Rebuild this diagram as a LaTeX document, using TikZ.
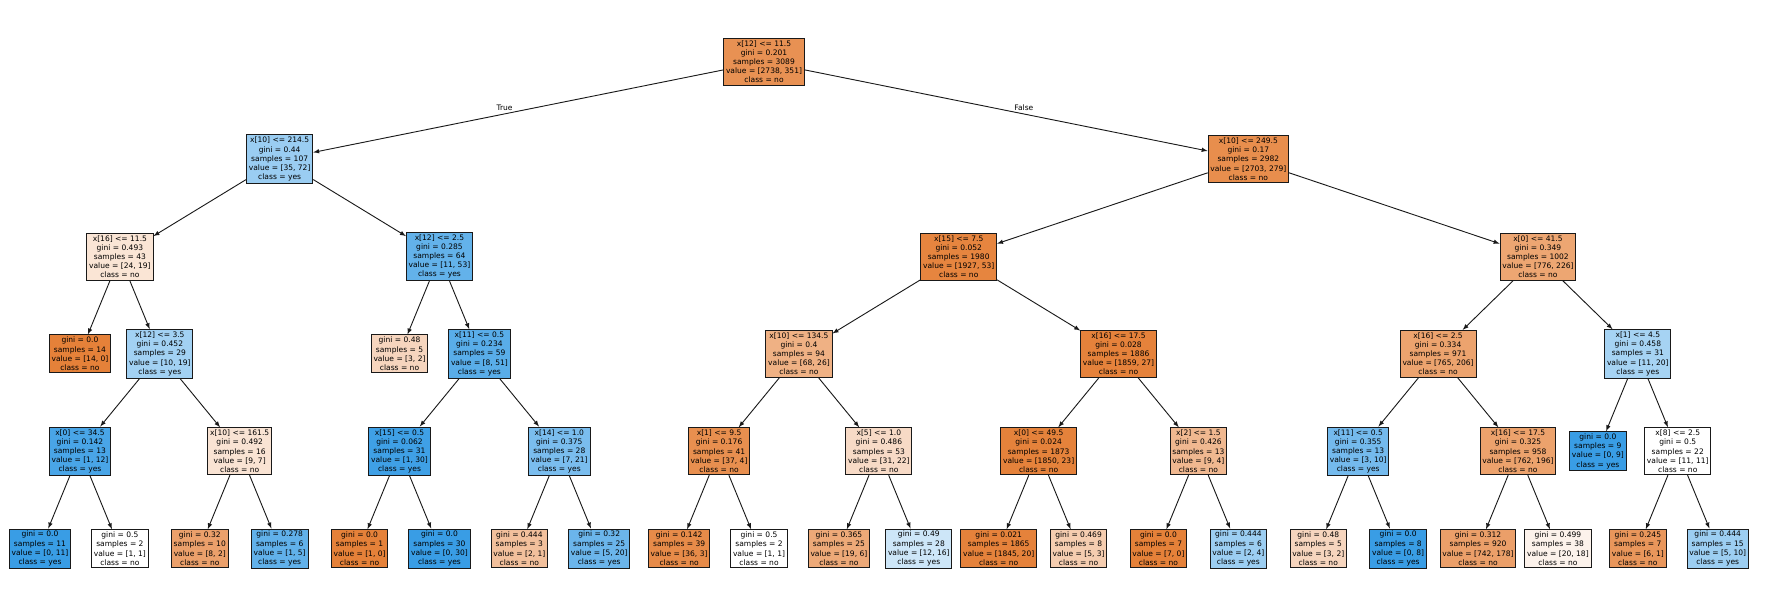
\documentclass[tikz,border=0pt]{standalone}
\usepackage{fontspec}
\setmainfont{DejaVu Sans}
\definecolor{cno}{RGB}{229,129,57}
\definecolor{cyes}{RGB}{57,157,229}

\begin{document}
\begin{tikzpicture}[x=69.9pt,y=-85.2pt]
	\tikzstyle{every node}=[font=\fontsize{6.6}{8}\selectfont]
	\tikzstyle{box}=[draw=black!90, line width=0.8pt, inner sep=2pt, align=center]
	\tikzstyle{arr}=[-latex, black!90, line width=0.8pt]
	\useasboundingbox (-0.5007,-0.634) rectangle (21.93,5.458);

	% depth 0 and 1
	\node[box, fill=cno!87] (n0) at (9.0625,0) {x[12] <= 11.5\\gini = 0.201\\samples = 3089\\value = [2738, 351]\\class = no};
	\node[box, fill=cyes!51] (n1) at (3,1) {x[10] <= 214.5\\gini = 0.44\\samples = 107\\value = [35, 72]\\class = yes};
	\node[box, fill=cno!90] (n20) at (15.125,1) {x[10] <= 249.5\\gini = 0.17\\samples = 2982\\value = [2703, 279]\\class = no};
	\node[anchor=east] (lt) at (5.966,0.475) {True};
	\node[anchor=west] (lf) at (12.146,0.475) {False};

	% left half
	\node[box, fill=cno!21] (n2) at (1,2) {x[16] <= 11.5\\gini = 0.493\\samples = 43\\value = [24, 19]\\class = no};
	\node[box, fill=cno] (n3) at (0.5,3) {gini = 0.0\\samples = 14\\value = [14, 0]\\class = no};
	\node[box, fill=cyes!47] (n4) at (1.5,3) {x[12] <= 3.5\\gini = 0.452\\samples = 29\\value = [10, 19]\\class = yes};
	\node[box, fill=cyes!92] (n5) at (0.5,4) {x[0] <= 34.5\\gini = 0.142\\samples = 13\\value = [1, 12]\\class = yes};
	\node[box, fill=cyes] (n6) at (0,5) {gini = 0.0\\samples = 11\\value = [0, 11]\\class = yes};
	\node[box, fill=white] (n7) at (1,5) {gini = 0.5\\samples = 2\\value = [1, 1]\\class = no};
	\node[box, fill=cno!22] (n8) at (2.5,4) {x[10] <= 161.5\\gini = 0.492\\samples = 16\\value = [9, 7]\\class = no};
	\node[box, fill=cno!75] (n9) at (2,5) {gini = 0.32\\samples = 10\\value = [8, 2]\\class = no};
	\node[box, fill=cyes!80] (n10) at (3,5) {gini = 0.278\\samples = 6\\value = [1, 5]\\class = yes};
	\node[box, fill=cyes!79] (n11) at (5,2) {x[12] <= 2.5\\gini = 0.285\\samples = 64\\value = [11, 53]\\class = yes};
	\node[box, fill=cno!33] (n12) at (4.5,3) {gini = 0.48\\samples = 5\\value = [3, 2]\\class = no};
	\node[box, fill=cyes!84] (n13) at (5.5,3) {x[11] <= 0.5\\gini = 0.234\\samples = 59\\value = [8, 51]\\class = yes};
	\node[box, fill=cyes!97] (n14) at (4.5,4) {x[15] <= 0.5\\gini = 0.062\\samples = 31\\value = [1, 30]\\class = yes};
	\node[box, fill=cno] (n15) at (4,5) {gini = 0.0\\samples = 1\\value = [1, 0]\\class = no};
	\node[box, fill=cyes] (n16) at (5,5) {gini = 0.0\\samples = 30\\value = [0, 30]\\class = yes};
	\node[box, fill=cyes!67] (n17) at (6.5,4) {x[14] <= 1.0\\gini = 0.375\\samples = 28\\value = [7, 21]\\class = yes};
	\node[box, fill=cno!50] (n18) at (6,5) {gini = 0.444\\samples = 3\\value = [2, 1]\\class = no};
	\node[box, fill=cyes!75] (n19) at (7,5) {gini = 0.32\\samples = 25\\value = [5, 20]\\class = yes};

	% right half
	\node[box, fill=cno!97] (n21) at (11.5,2) {x[15] <= 7.5\\gini = 0.052\\samples = 1980\\value = [1927, 53]\\class = no};
	\node[box, fill=cno!62] (n22) at (9.5,3) {x[10] <= 134.5\\gini = 0.4\\samples = 94\\value = [68, 26]\\class = no};
	\node[box, fill=cno!89] (n23) at (8.5,4) {x[1] <= 9.5\\gini = 0.176\\samples = 41\\value = [37, 4]\\class = no};
	\node[box, fill=cno!92] (n24) at (8,5) {gini = 0.142\\samples = 39\\value = [36, 3]\\class = no};
	\node[box, fill=white] (n25) at (9,5) {gini = 0.5\\samples = 2\\value = [1, 1]\\class = no};
	\node[box, fill=cno!29] (n26) at (10.5,4) {x[5] <= 1.0\\gini = 0.486\\samples = 53\\value = [31, 22]\\class = no};
	\node[box, fill=cno!68] (n27) at (10,5) {gini = 0.365\\samples = 25\\value = [19, 6]\\class = no};
	\node[box, fill=cyes!25] (n28) at (11,5) {gini = 0.49\\samples = 28\\value = [12, 16]\\class = yes};
	\node[box, fill=cno!99] (n29) at (13.5,3) {x[16] <= 17.5\\gini = 0.028\\samples = 1886\\value = [1859, 27]\\class = no};
	\node[box, fill=cno!99] (n30) at (12.5,4) {x[0] <= 49.5\\gini = 0.024\\samples = 1873\\value = [1850, 23]\\class = no};
	\node[box, fill=cno!99] (n31) at (12,5) {gini = 0.021\\samples = 1865\\value = [1845, 20]\\class = no};
	\node[box, fill=cno!40] (n32) at (13,5) {gini = 0.469\\samples = 8\\value = [5, 3]\\class = no};
	\node[box, fill=cno!56] (n33) at (14.5,4) {x[2] <= 1.5\\gini = 0.426\\samples = 13\\value = [9, 4]\\class = no};
	\node[box, fill=cno] (n34) at (14,5) {gini = 0.0\\samples = 7\\value = [7, 0]\\class = no};
	\node[box, fill=cyes!50] (n35) at (15,5) {gini = 0.444\\samples = 6\\value = [2, 4]\\class = yes};
	\node[box, fill=cno!71] (n36) at (18.75,2) {x[0] <= 41.5\\gini = 0.349\\samples = 1002\\value = [776, 226]\\class = no};
	\node[box, fill=cno!73] (n37) at (17.5,3) {x[16] <= 2.5\\gini = 0.334\\samples = 971\\value = [765, 206]\\class = no};
	\node[box, fill=cyes!70] (n38) at (16.5,4) {x[11] <= 0.5\\gini = 0.355\\samples = 13\\value = [3, 10]\\class = yes};
	\node[box, fill=cno!33] (n39) at (16,5) {gini = 0.48\\samples = 5\\value = [3, 2]\\class = no};
	\node[box, fill=cyes] (n40) at (17,5) {gini = 0.0\\samples = 8\\value = [0, 8]\\class = yes};
	\node[box, fill=cno!74] (n41) at (18.5,4) {x[16] <= 17.5\\gini = 0.325\\samples = 958\\value = [762, 196]\\class = no};
	\node[box, fill=cno!76] (n42) at (18,5) {gini = 0.312\\samples = 920\\value = [742, 178]\\class = no};
	\node[box, fill=cno!10] (n43) at (19,5) {gini = 0.499\\samples = 38\\value = [20, 18]\\class = no};
	\node[box, fill=cyes!45] (n44) at (20,3) {x[1] <= 4.5\\gini = 0.458\\samples = 31\\value = [11, 20]\\class = yes};
	\node[box, fill=cyes] (n45) at (19.5,4) {gini = 0.0\\samples = 9\\value = [0, 9]\\class = yes};
	\node[box, fill=white] (n46) at (20.5,4) {x[8] <= 2.5\\gini = 0.5\\samples = 22\\value = [11, 11]\\class = no};
	\node[box, fill=cno!83] (n47) at (20,5) {gini = 0.245\\samples = 7\\value = [6, 1]\\class = no};
	\node[box, fill=cyes!50] (n48) at (21,5) {gini = 0.444\\samples = 15\\value = [5, 10]\\class = yes};

	\draw[arr] (n0) -- (n1); \draw[arr] (n0) -- (n20);
	\draw[arr] (n1) -- (n2); \draw[arr] (n1) -- (n11);
	\draw[arr] (n2) -- (n3); \draw[arr] (n2) -- (n4);
	\draw[arr] (n4) -- (n5); \draw[arr] (n4) -- (n8);
	\draw[arr] (n5) -- (n6); \draw[arr] (n5) -- (n7);
	\draw[arr] (n8) -- (n9); \draw[arr] (n8) -- (n10);
	\draw[arr] (n11) -- (n12); \draw[arr] (n11) -- (n13);
	\draw[arr] (n13) -- (n14); \draw[arr] (n13) -- (n17);
	\draw[arr] (n14) -- (n15); \draw[arr] (n14) -- (n16);
	\draw[arr] (n17) -- (n18); \draw[arr] (n17) -- (n19);
	\draw[arr] (n20) -- (n21); \draw[arr] (n20) -- (n36);
	\draw[arr] (n21) -- (n22); \draw[arr] (n21) -- (n29);
	\draw[arr] (n22) -- (n23); \draw[arr] (n22) -- (n26);
	\draw[arr] (n23) -- (n24); \draw[arr] (n23) -- (n25);
	\draw[arr] (n26) -- (n27); \draw[arr] (n26) -- (n28);
	\draw[arr] (n29) -- (n30); \draw[arr] (n29) -- (n33);
	\draw[arr] (n30) -- (n31); \draw[arr] (n30) -- (n32);
	\draw[arr] (n33) -- (n34); \draw[arr] (n33) -- (n35);
	\draw[arr] (n36) -- (n37); \draw[arr] (n36) -- (n44);
	\draw[arr] (n37) -- (n38); \draw[arr] (n37) -- (n41);
	\draw[arr] (n38) -- (n39); \draw[arr] (n38) -- (n40);
	\draw[arr] (n41) -- (n42); \draw[arr] (n41) -- (n43);
	\draw[arr] (n44) -- (n45); \draw[arr] (n44) -- (n46);
	\draw[arr] (n46) -- (n47); \draw[arr] (n46) -- (n48);

\end{tikzpicture}
\end{document}
